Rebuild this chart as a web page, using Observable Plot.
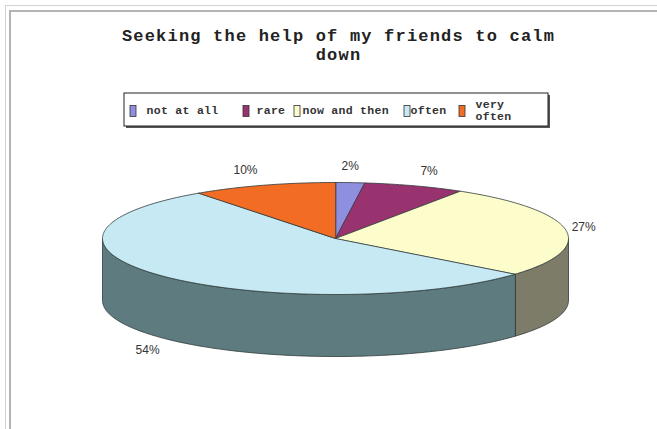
<!DOCTYPE html>
<html>
<head>
<meta charset="utf-8">
<script src="https://cdn.jsdelivr.net/npm/d3@7"></script>
<script src="https://cdn.jsdelivr.net/npm/@observablehq/plot@0.6"></script>
<style>
  html, body { margin: 0; padding: 0; background: #fff; }
  #wrap { position: relative; width: 657px; height: 429px; overflow: hidden; background: #fff; }
  .f1 { position: absolute; left: 5px; top: 5px; width: 700px; height: 500px; border-left: 1px solid #d2d2d2; border-top: 1px solid #d2d2d2; }
  .f2 { position: absolute; left: 9px; top: 10px; width: 700px; height: 500px; border-left: 2px solid #b4b4b4; border-top: 2px solid #b4b4b4; }
  #chart { position: absolute; left: 0; top: 0; }
</style>
</head>
<body>
<div id="wrap"><div class="f1"></div><div class="f2"></div><div id="chart"></div></div>
<script>
// ---- data ----
const categories = ["not at all", "rare", "now and then", "often", "very often"];
const percents = [2, 7, 27, 54, 10];
const legendLabels = ["not at all", "rare", "now and then", "often", "very\noften"];
const titleLines = ["Seeking the help of my friends to calm", "down"];
const sliceColors = ["#8f8fe0", "#993370", "#fdfdcb", "#c6e9f3", "#f36c24"];
const sideColors = ["#6a6aa6", "#6d2450", "#7d7c68", "#5e7b7f", "#b24f1a"];

// ---- layout ----
const W = 657, H = 429;
const CX = 335, CY = 238, RX = 233, RY = 56, DEPTH = 62;
const legendSwatchX = [130, 243, 294, 404, 459];
const legendTextX = [146, 256, 302, 410, 475];
const deg = Math.PI / 180;

function pt(theta, dz = 0) {
  return [CX + RX * Math.sin(theta * deg), CY - RY * Math.cos(theta * deg) + dz];
}
function arc(a, b, dz) {
  const n = Math.max(2, Math.ceil(Math.abs(b - a)));
  const out = [];
  for (let j = 0; j <= n; j++) out.push(pt(a + (b - a) * j / n, dz));
  return out;
}

let cum = 0;
const slices = categories.map((c, i) => {
  const a = cum / 100 * 360;
  cum += percents[i];
  const b = cum / 100 * 360;
  return {c, i, a, b, p: percents[i], mid: (a + b) / 2};
});

// top faces
const topPts = [];
for (const s of slices) {
  topPts.push({k: s.c, x: CX, y: CY, color: sliceColors[s.i]});
  for (const [x, y] of arc(s.a, s.b, 0)) topPts.push({k: s.c, x, y, color: sliceColors[s.i]});
}
// visible side walls (front half: 90..270 degrees)
const sidePts = [];
for (const s of slices) {
  const a0 = Math.max(s.a, 90), a1 = Math.min(s.b, 270);
  if (a0 >= a1) continue;
  for (const [x, y] of arc(a0, a1, 0)) sidePts.push({k: s.c, x, y, color: sideColors[s.i]});
  for (const [x, y] of arc(a1, a0, DEPTH)) sidePts.push({k: s.c, x, y, color: sideColors[s.i]});
}
// percentage labels
const labels = slices.map(s => {
  const sn = Math.sin(s.mid * deg), cs = Math.cos(s.mid * deg);
  const [px, py] = pt(s.mid, cs < 0 ? DEPTH : 0);
  const anchor = sn > 0.15 ? "start" : sn < -0.15 ? "end" : "middle";
  const x = px + (anchor === "start" ? 6 : anchor === "end" ? -6 : 0);
  const y = py - cs * 16;
  return {text: s.p + "%", x, y, anchor};
});

const legend = categories.map((c, i) => ({c, i, label: legendLabels[i], color: sliceColors[i], sx: legendSwatchX[i], tx: legendTextX[i]}));

const textStyle = {fontFamily: "Liberation Sans, Arial, sans-serif", fontSize: 12, fill: "#333"};

const chart = Plot.plot({
  width: W, height: H, margin: 0,
  style: {background: "transparent", overflow: "visible"},
  x: {domain: [0, W], range: [0, W], axis: null},
  y: {domain: [0, H], range: [0, H], axis: null},
  color: {type: "identity"},
  marks: [
    // title
    Plot.text(titleLines, {x: () => 338, y: (d, i) => 35 + i * 19, text: d => d,
      fontFamily: "Liberation Mono, Courier New, monospace", fontWeight: "bold", fontSize: 17, fill: "#222"}),
    // legend box with shadow
    Plot.rect([0], {x1: 126, x2: 550, y1: 95, y2: 128, fill: "#555"}),
    Plot.rect([0], {x1: 124, x2: 548, y1: 93, y2: 126, fill: "#fff", stroke: "#222", strokeWidth: 1}),
    Plot.rect(legend, {x1: d => d.sx, x2: d => d.sx + 6, y1: () => 105.5, y2: () => 116.5, fill: d => d.color, stroke: "#333", strokeWidth: 0.8}),
    Plot.text(legend, {x: d => d.tx, y: () => 110, text: "label", textAnchor: "start", lineHeight: 1.05,
      fontFamily: "Liberation Mono, Courier New, monospace", fontWeight: "bold", fontSize: 11.5, fill: "#333"}),
    // pie sides then tops
    Plot.line(sidePts, {x: "x", y: "y", z: "k", fill: d => d.color, stroke: "#2e3a3a", strokeWidth: 0.8, curve: "linear-closed"}),
    Plot.line(topPts, {x: "x", y: "y", z: "k", fill: d => d.color, stroke: "#2e3a3a", strokeWidth: 0.8, curve: "linear-closed"}),
    // labels
    Plot.text(labels.filter(d => d.anchor === "start"), {x: "x", y: "y", text: "text", textAnchor: "start", ...textStyle}),
    Plot.text(labels.filter(d => d.anchor === "end"), {x: "x", y: "y", text: "text", textAnchor: "end", ...textStyle}),
    Plot.text(labels.filter(d => d.anchor === "middle"), {x: "x", y: "y", text: "text", textAnchor: "middle", ...textStyle})
  ]
});
d3.select(chart).selectAll("text").filter(function() { return titleLines.includes(this.textContent); })
  .attr("letter-spacing", "1.2px");
d3.select(chart).selectAll("text").filter(function() { return legendLabels.includes(this.textContent) || this.textContent === "veryoften"; })
  .attr("letter-spacing", "0.3px");
document.getElementById("chart").appendChild(chart);
</script>
</body>
</html>
